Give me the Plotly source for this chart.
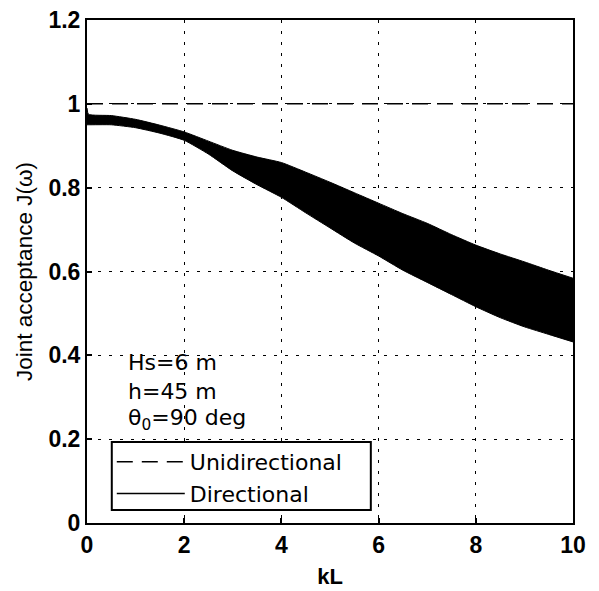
import plotly.graph_objects as go

# Directional joint acceptance: envelope of the rapidly oscillating curve
kL = [0.0, 0.03, 0.5, 1.0, 1.5, 2.0, 2.5, 3.0, 3.5, 4.0, 4.5, 5.0, 5.5, 6.0,
      6.5, 7.0, 7.5, 8.0, 8.5, 9.0, 9.5, 10.0]
directional_upper = [0.99, 0.975, 0.972, 0.963, 0.949, 0.933, 0.911, 0.889, 0.873,
                     0.860, 0.837, 0.813, 0.788, 0.763, 0.738, 0.715, 0.688,
                     0.663, 0.642, 0.623, 0.603, 0.584]
directional_lower = [0.95, 0.95, 0.950, 0.943, 0.930, 0.913, 0.880, 0.840, 0.807,
                     0.777, 0.740, 0.704, 0.668, 0.637, 0.603, 0.574, 0.545,
                     0.516, 0.490, 0.468, 0.450, 0.432]

# Unidirectional joint acceptance
kL_uni = [0.0, 10.0]
unidirectional = [1.0, 1.0]

x_ticks = [0, 2, 4, 6, 8, 10]
y_ticks = [0, 0.2, 0.4, 0.6, 0.8, 1.0, 1.2]
y_tick_text = ["0", "0.2", "0.4", "0.6", "0.8", "1", "1.2"]

FONT = "Liberation Sans, Arial, sans-serif"
WIDE = "DejaVu Sans, sans-serif"

fig = go.Figure()

fig.add_trace(go.Scatter(x=kL, y=directional_lower, mode="lines",
                         line=dict(color="black", width=1, shape="spline",
                                   smoothing=0.5),
                         showlegend=False, hoverinfo="skip"))
fig.add_trace(go.Scatter(x=kL, y=directional_upper, mode="lines", fill="tonexty",
                         fillcolor="black",
                         line=dict(color="black", width=1, shape="spline",
                                   smoothing=0.5),
                         showlegend=False, hoverinfo="skip"))

fig.add_trace(go.Scatter(x=kL_uni, y=unidirectional, mode="lines",
                         name="Unidirectional",
                         line=dict(color="black", width=1.5, dash="16px,9px")))
fig.add_trace(go.Scatter(x=[None], y=[None], mode="lines", name="Directional",
                         line=dict(color="black", width=1.5)))

ann_font = dict(family=WIDE, size=22, color="black")
fig.add_annotation(x=0.8, y=0.383, xref="x", yref="y", text="Hs=6 m",
                   showarrow=False, xanchor="left", yanchor="middle", font=ann_font)
fig.add_annotation(x=0.8, y=0.313, xref="x", yref="y", text="h=45 m",
                   showarrow=False, xanchor="left", yanchor="middle", font=ann_font)
fig.add_annotation(x=0.8, y=0.248, xref="x", yref="y",
                   text="θ<sub>0</sub>=90 deg",
                   showarrow=False, xanchor="left", yanchor="middle", font=ann_font)

# legend frame (white box with black border, behind the legend entries)
fig.add_shape(type="rect", xref="paper", yref="paper",
              x0=0.051, x1=0.584, y0=0.026, y1=0.161,
              fillcolor="white", line=dict(color="black", width=2),
              layer="above")

axis_common = dict(
    showline=True, linecolor="black", linewidth=2, mirror=True,
    showgrid=True, gridcolor="black", gridwidth=1.4, griddash="3px,8px",
    ticks="inside", ticklen=5, tickcolor="black", tickwidth=1.5,
    zeroline=False, automargin=False,
    tickfont=dict(family=FONT, size=23, color="black", weight="bold"),
)

fig.update_xaxes(range=[0, 10], tickvals=x_ticks,
                 title=dict(text="kL", standoff=12,
                            font=dict(family=FONT, size=22, color="black",
                                      weight="bold")),
                 **axis_common)
fig.update_yaxes(range=[0, 1.2], tickvals=y_ticks, ticktext=y_tick_text,
                 title=dict(text="Joint acceptance J(ω)", standoff=10,
                            font=dict(family=FONT, size=22.5, color="black")),
                 **axis_common)

fig.update_layout(
    width=599, height=591,
    margin=dict(l=87, r=26, t=20, b=68),
    paper_bgcolor="white", plot_bgcolor="white",
    legend=dict(x=0.051, y=0.163, xanchor="left", yanchor="top",
                bgcolor="rgba(0,0,0,0)", borderwidth=0,
                font=dict(family=WIDE, size=22, color="black"),
                tracegroupgap=0, itemwidth=68, traceorder="normal"),
    showlegend=True,
)

fig.write_html("out.html")
